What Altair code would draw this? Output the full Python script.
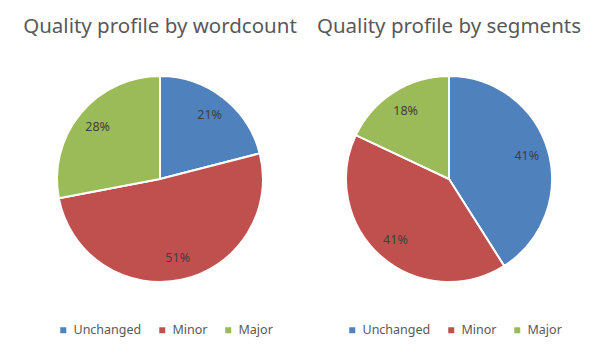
import altair as alt
import pandas as pd

categories = ["Unchanged", "Minor", "Major"]
wordcount_pct = [21, 51, 28]
segments_pct = [41, 41, 18]
colors = ["#4F81BD", "#C0504D", "#9BBB59"]
titles = ["Quality profile by wordcount", "Quality profile by segments"]

FONT = "Noto Sans"


def pie(values, title, cx, cy, legend_x, legend_y):
    df = pd.DataFrame({
        "category": categories,
        "value": values,
        "order": list(range(len(categories))),
    })
    base = alt.Chart(df).transform_calculate(
        label="datum.value + '%'"
    ).encode(
        theta=alt.Theta("value:Q", stack=True),
        order=alt.Order("order:Q"),
        x=alt.value(cx),
        y=alt.value(cy),
    )
    arcs = base.mark_arc(outerRadius=103, stroke="white", strokeWidth=2).encode(
        color=alt.Color(
            "category:N",
            sort=categories,
            scale=alt.Scale(domain=categories, range=colors),
            legend=alt.Legend(
                title=None,
                orient="none",
                direction="horizontal",
                legendX=legend_x,
                legendY=legend_y,
                symbolType="square",
                symbolSize=36,
                symbolStrokeWidth=0,
                labelFont=FONT,
                labelFontSize=12.5,
                labelColor="#595959",
                labelOffset=4,
                columnPadding=14,
                gridAlign="none",
            ),
        )
    )
    labels = base.mark_text(radius=81, font=FONT, fontSize=12.5, color="#404040").encode(
        text="label:N"
    )
    return alt.layer(arcs, labels).properties(
        width=288,
        height=290,
        title=alt.Title(title, font=FONT, fontSize=20.5, fontWeight="normal",
                        color="#595959", dx=8, anchor="middle"),
    )


left = pie(wordcount_pct, titles[0], 152, 138, 49, 283)
right = pie(segments_pct, titles[1], 152, 138, 49, 283)

chart = alt.hconcat(left, right, spacing=0).resolve_scale(
    color="independent"
).properties(
    padding={"top": 8, "left": 0, "right": 0, "bottom": 0}
).configure_view(strokeWidth=0)

chart.save("out.html", embed_options={"renderer": "svg", "actions": False})
